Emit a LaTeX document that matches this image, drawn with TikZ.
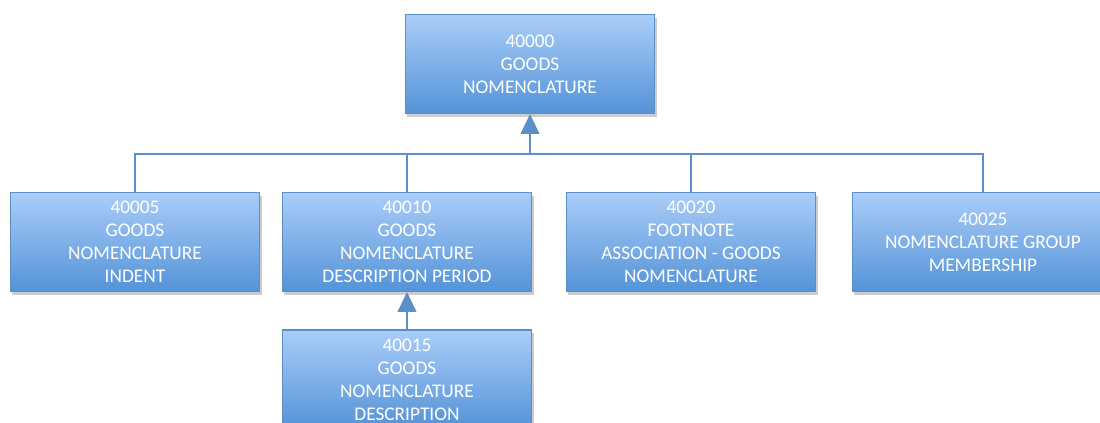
\documentclass[tikz,border=0pt]{standalone}
\usepackage{fontspec}
\setmainfont{Carlito}
\usetikzlibrary{positioning,shadows,arrows.meta}

\definecolor{boxtop}{HTML}{AACDF8}
\definecolor{boxbot}{HTML}{5493D8}
\definecolor{boxline}{HTML}{5C8FC8}

\tikzset{
  entity/.style={rectangle, draw=boxline, line width=1pt,
    top color=boxtop, bottom color=boxbot,
    minimum width=187pt, minimum height=74pt, align=center,
    text=white, font=\fontsize{14.5}{17.25}\selectfont,
    drop shadow={shadow xshift=1.5pt, shadow yshift=-2.5pt, opacity=0.4}},
  link/.style={draw=boxline, line width=1.5pt},
  isa/.style={link, -{Triangle[width=14pt,length=15pt]}}
}

\begin{document}
\begin{tikzpicture}[on grid]
  \useasboundingbox (0,0) rectangle (825pt,-317.25pt);

  \node[entity] (n40000) at (397.5pt,-48pt) {40000\\GOODS\\NOMENCLATURE};
  \node[entity] (n40005) at (101.25pt,-181.5pt) {40005\\GOODS\\NOMENCLATURE\\INDENT};
  \node[entity] (n40010) [right=204pt of n40005] {40010\\GOODS\\NOMENCLATURE\\DESCRIPTION PERIOD};
  \node[entity] (n40020) [right=213pt of n40010] {40020\\FOOTNOTE\\ASSOCIATION - GOODS\\NOMENCLATURE};
  \node[entity, minimum width=196pt] (n40025) [right=219pt of n40020] {40025\\NOMENCLATURE GROUP\\MEMBERSHIP};
  \node[entity] (n40015) [below=103pt of n40010] {40015\\GOODS\\NOMENCLATURE\\DESCRIPTION};

  \coordinate (bus) at ([yshift=-30pt]n40000.south);

  % children to parent
  \draw[link] (n40005.north) |- (bus) -| (n40025.north);
  \draw[link] (n40010.north) -- (n40010.north |- bus);
  \draw[link] (n40020.north) -- (n40020.north |- bus);
  \draw[isa] (bus) -- (n40000.south);
  \draw[isa] (n40015.north) -- (n40010.south);
\end{tikzpicture}
\end{document}
